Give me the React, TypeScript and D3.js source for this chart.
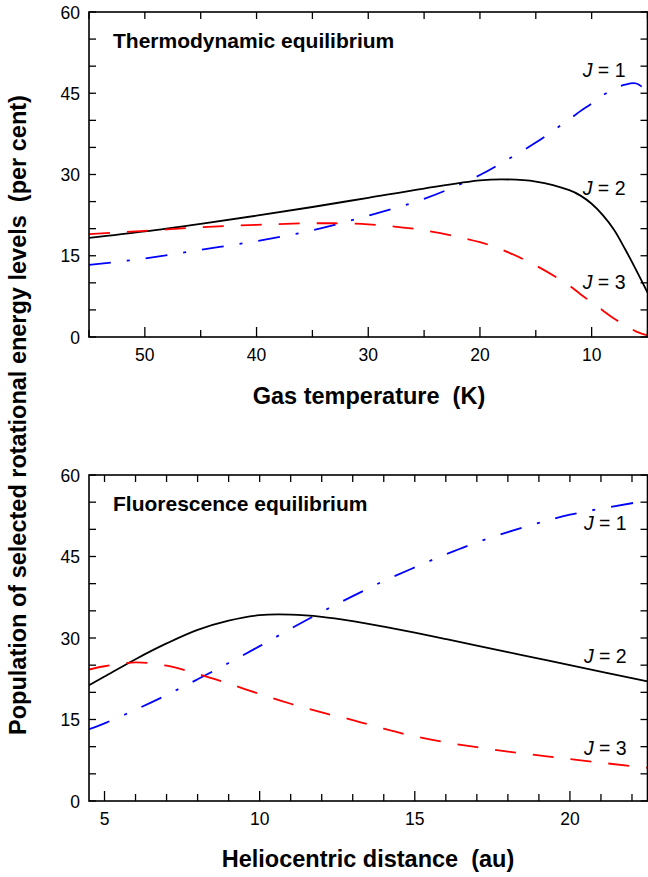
import React from "react";
import * as d3 from "d3";

// top panel: thermodynamic equilibrium vs gas temperature (K)
const tempK = [55, 50, 45, 40, 35, 30, 25, 20, 18, 15, 12, 11, 10, 9, 8, 7, 6, 5];
const thermoJ1 = [13.3, 14.5, 16.1, 17.7, 19.7, 22.4, 25.5, 29.9, 32.2, 35.9, 40.2, 41.7, 43.1, 44.6, 45.8, 46.6, 46.8, 45.3];
const thermoJ2 = [18.3, 19.5, 20.9, 22.4, 24.0, 25.7, 27.4, 28.9, 29.1, 28.7, 27.1, 26.1, 24.6, 22.5, 19.8, 16.2, 12.3, 8.2];
const thermoJ3 = [19.0, 19.6, 20.25, 20.7, 21.0, 20.8, 19.7, 17.5, 16.1, 13.2, 9.5, 7.9, 6.4, 4.9, 3.4, 2.2, 1.0, 0.3];

// bottom panel: fluorescence equilibrium vs heliocentric distance (au)
const distAu = [4.5, 5, 6, 7, 8, 9, 10, 11, 12, 13, 14, 15, 16, 17, 18, 19, 20, 22.5];
const fluorJ1 = [13.2, 14.3, 16.8, 19.5, 22.4, 25.4, 28.5, 31.7, 34.8, 37.7, 40.5, 43.0, 45.4, 47.6, 49.5, 51.2, 52.7, 55.3];
const fluorJ2 = [21.3, 22.9, 26.1, 29.0, 31.5, 33.2, 34.2, 34.3, 33.9, 33.1, 32.1, 31.0, 29.8, 28.6, 27.4, 26.2, 25.0, 22.0];
const fluorJ3 = [24.2, 24.8, 25.5, 24.9, 23.4, 21.6, 19.7, 17.9, 16.3, 14.9, 13.3, 11.9, 10.8, 9.9, 9.1, 8.4, 7.7, 6.1];

const yTicks = [0, 15, 30, 45, 60];
const tempTicks = [50, 40, 30, 20, 10];
const distTicks = [5, 10, 15, 20];
const levels = ["1", "2", "3"];

const font = "'Liberation Sans', Arial, sans-serif";
const W = 648;
const H = 877;
const left = 89;
const right = 647.5;

const styles = [
  { stroke: "#0000ff", dash: "22,16,3,16", width: 1.8 },
  { stroke: "#000000", dash: null, width: 1.8 },
  { stroke: "#ff0000", dash: "21,17", width: 1.8 },
];

function Panel(props: any) {
  const { id, xs, series, xDomain, top, bottom, majors, minors, title, labelX, labelY, tickY } = props;
  const x = d3.scaleLinear().domain(xDomain).range([left, right]);
  const y = d3.scaleLinear().domain([0, 60]).range([bottom, top]);
  const line = d3
    .line<number>()
    .x((d, i) => x(xs[i]))
    .y(d => y(d))
    .curve(d3.curveCatmullRom.alpha(0.5));
  const yAll = d3.range(0, 61, 5);

  return (
    <g>
      <defs>
        <clipPath id={id}>
          <rect x={left} y={top} width={right - left} height={bottom - top} />
        </clipPath>
      </defs>
      <g clipPath={`url(#${id})`}>
        {series.map((s: number[], i: number) => (
          <path
            key={i}
            d={line(s) || ""}
            fill="none"
            stroke={styles[i].stroke}
            strokeWidth={styles[i].width}
            strokeDasharray={styles[i].dash || undefined}
          />
        ))}
      </g>
      {/* ticks point inward on all four sides */}
      {minors.map((t: number) => {
        const len = majors.includes(t) ? 10 : 7;
        return (
          <g key={"x" + t} stroke="#000" strokeWidth={1.3}>
            <line x1={x(t)} x2={x(t)} y1={bottom} y2={bottom - len} />
            <line x1={x(t)} x2={x(t)} y1={top} y2={top + 7} />
          </g>
        );
      })}
      {yAll.map(t => (
        <g key={"y" + t} stroke="#000" strokeWidth={1.3}>
          <line x1={left} x2={left + 7} y1={y(t)} y2={y(t)} />
          <line x1={right} x2={right - 7} y1={y(t)} y2={y(t)} />
        </g>
      ))}
      <rect x={left} y={top} width={right - left} height={bottom - top} fill="none" stroke="#000" strokeWidth={1.6} />
      {majors.map((t: number) => (
        <text key={"xl" + t} x={x(t)} y={tickY} textAnchor="middle" fontSize={17.5} fontFamily={font}>
          {t}
        </text>
      ))}
      {yTicks.map(t => (
        <text key={"yl" + t} x={80} y={y(t) + 6.5} textAnchor="end" fontSize={17.5} fontFamily={font}>
          {t}
        </text>
      ))}
      <text x={left + 24} y={top + 36} fontSize={21} fontWeight="bold" fontFamily={font}>
        {title}
      </text>
      {levels.map((l, i) => (
        <text key={l} x={x(labelX)} y={y(labelY[i])} fontSize={19.5} fontFamily={font}>
          <tspan fontStyle="italic">J</tspan>
          {" = " + l}
        </text>
      ))}
    </g>
  );
}

export default function App() {
  return (
    <div style={{ position: "absolute", left: 0, top: 0 }}>
      <svg width={W} height={H} style={{ display: "block", background: "#fff" }}>
        <Panel
          id="clipTop"
          xs={tempK}
          series={[thermoJ1, thermoJ2, thermoJ3]}
          xDomain={[55, 5]}
          top={12}
          bottom={337}
          majors={tempTicks}
          minors={d3.range(5, 56, 5)}
          title="Thermodynamic equilibrium"
          labelX={10.8}
          labelY={[48, 26.2, 8.9]}
          tickY={361}
        />
        <Panel
          id="clipBottom"
          xs={distAu}
          series={[fluorJ1, fluorJ2, fluorJ3]}
          xDomain={[4.5, 22.5]}
          top={475}
          bottom={801}
          majors={distTicks}
          minors={d3.range(5, 23, 1)}
          title="Fluorescence equilibrium"
          labelX={20.45}
          labelY={[49.9, 25.4, 8.5]}
          tickY={825}
        />
        <text x={369} y={404} textAnchor="middle" fontSize={23.5} fontWeight="bold" fontFamily={font}>
          Gas temperature{"\u00a0 "}(K)
        </text>
        <text x={368} y={867} textAnchor="middle" fontSize={23.5} fontWeight="bold" fontFamily={font}>
          Heliocentric distance{"\u00a0 "}(au)
        </text>
        <text
          transform="translate(26,415) rotate(-90)"
          textAnchor="middle"
          fontSize={23.5}
          fontWeight="bold"
          fontFamily={font}
        >
          Population of selected rotational energy levels{"\u00a0 "}(per cent)
        </text>
      </svg>
    </div>
  );
}
